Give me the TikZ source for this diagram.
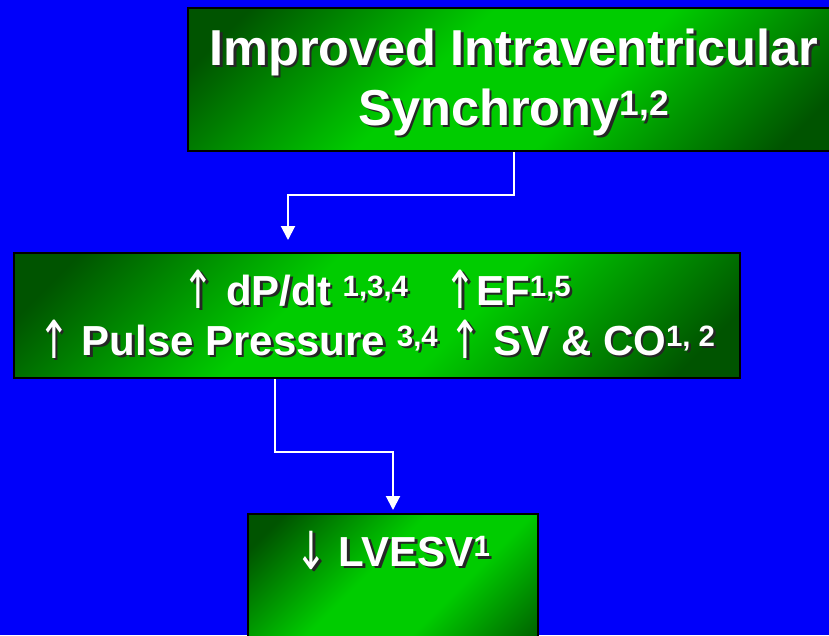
\documentclass[tikz,border=0pt]{standalone}
\usepackage{fontspec}
\setmainfont{Liberation Sans}
\newfontfamily\flechas{DejaVu Sans}
\usetikzlibrary{arrows.meta}

\definecolor{fondo}{RGB}{0,0,250}
\definecolor{verdeclaro}{RGB}{0,204,0}
\definecolor{verdeoscuro}{RGB}{0,84,0}
\pgfdeclarehorizontalshading{brillo}{100bp}{color(0bp)=(verdeoscuro); color(20bp)=(verdeoscuro); color(42bp)=(verdeclaro); color(58bp)=(verdeclaro); color(80bp)=(verdeoscuro); color(100bp)=(verdeoscuro)}
\newcommand{\sombra}[1]{\makebox[0pt][l]{\kern2.5pt\raisebox{-2.5pt}{\color{black!85}#1}}#1}
\newcommand{\sube}{\raisebox{-3pt}{\scalebox{0.9}[1.25]{\flechas\mdseries ↑}}}
\newcommand{\baja}{\raisebox{-3pt}{\scalebox{0.9}[1.25]{\flechas\mdseries ↓}}}

\tikzset{
	caja/.style={draw=black, line width=2pt, shade, shading=brillo, shading angle=-45, text=white, align=center},
	flecha/.style={draw=white, line width=2pt, -{Triangle[width=14pt,length=14pt]}}
}

\begin{document}
\begin{tikzpicture}[x=1pt,y=-1pt]
	% Fondo
	\fill[fondo] (0,0) rectangle (829,635);
	\useasboundingbox (0,0) rectangle (829,635);
	
	% Cajas
	\node[caja, minimum width=652pt, minimum height=143pt, font=\bfseries\fontsize{50.5}{60}\selectfont] (sincronia) at (514,79.5) {\rule{0pt}{44pt}\sombra{Improved Intraventricular}\\ \sombra{Synchrony\textsuperscript{1,2}}};
	\node[caja, minimum width=726pt, minimum height=125pt, font=\bfseries\fontsize{42}{50}\selectfont] (efectos) at (377,315.5) {\rule{0pt}{34pt}\sombra{\sube{} dP/dt \textsuperscript{1,3,4}}\hspace{36pt}\sombra{\sube EF\textsuperscript{1,5}}\\ \sombra{\sube{} Pulse Pressure \textsuperscript{3,4}} \sombra{\sube{} SV \& CO\textsuperscript{1, 2}}};
	\node[caja, anchor=north, minimum width=290pt, text height=30pt, text depth=100pt, inner ysep=22pt, font=\bfseries\fontsize{42}{50}\selectfont] (lvesv) at (393,513) {\sombra{\baja{} LVESV\textsuperscript{1}}};
	
	% Conectores
	\coordinate (codo1) at (288,195);
	\coordinate (codo2) at (275,452);
	\draw[flecha, shorten >=12pt] (sincronia.south) |- (codo1) -- (codo1 |- efectos.north);
	\draw[flecha, shorten >=3pt] (codo2 |- efectos.south) -- (codo2) -| (lvesv.north);
\end{tikzpicture}
\end{document}
